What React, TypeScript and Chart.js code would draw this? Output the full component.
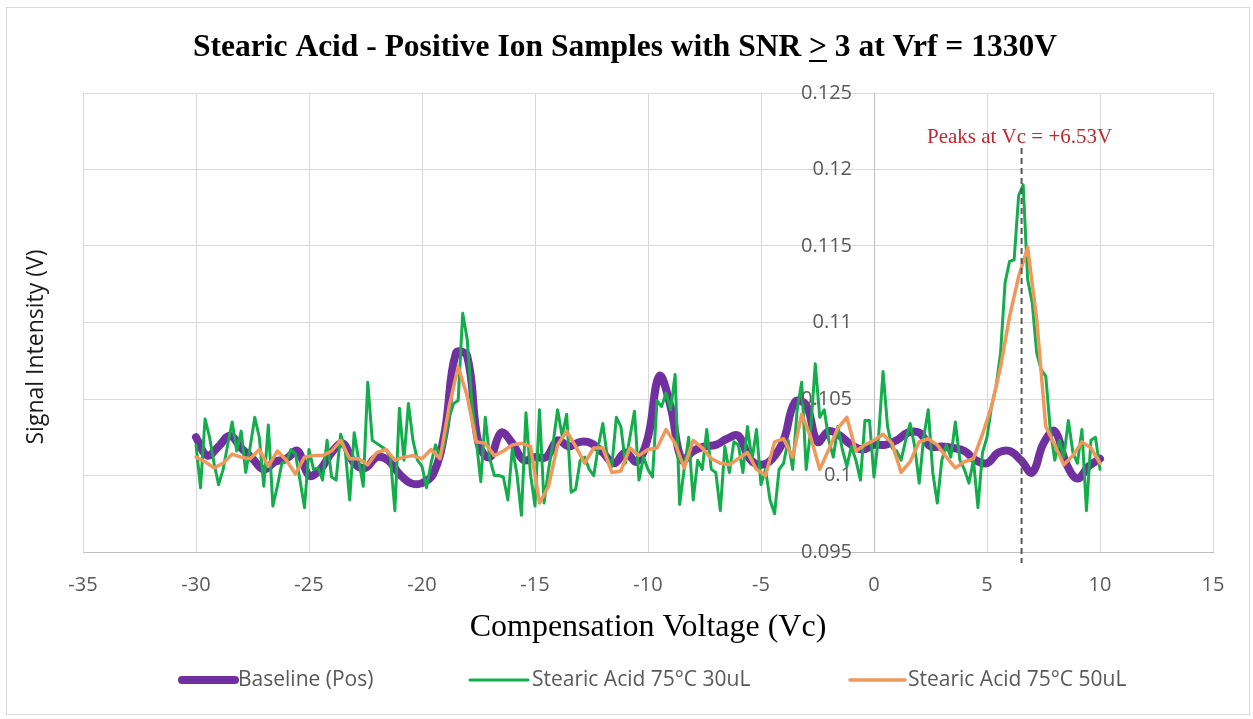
import React, { useEffect, useRef } from "react";
import { Chart, registerables } from "chart.js";

Chart.register(...registerables);

// ---------- text ----------
const TITLE_PARTS = ["Stearic Acid - Positive Ion Samples with SNR ", ">", " 3 at Vrf = 1330V"];
const X_TITLE = "Compensation Voltage (Vc)";
const Y_TITLE = "Signal Intensity (V)";
const SERIES_NAMES = ["Baseline (Pos)", "Stearic Acid 75°C 30uL", "Stearic Acid 75°C 50uL"];
const PEAK_VC = 6.53;
const PEAK_LABEL = "Peaks at Vc = +6.53V";

// ---------- axes ----------
const X_MIN = -35;
const X_MAX = 15;
const X_STEP = 5;
const Y_MIN = 0.095;
const Y_MAX = 0.125;
const Y_STEP = 0.005;

// ---------- sweep grids (Vc start / increment) ----------
const BASELINE_START = -30;
const BASELINE_STEP = 0.5;
const SA30_START = -30;
const SA30_STEP = 0.2;
const SA50_START = -30;
const SA50_STEP = 0.4;

// ---------- series values (V) ----------
const BASELINE = [
  0.1025, 0.1013, 0.1019, 0.1026, 0.1018, 0.1011, 0.1004, 0.1009, 0.1011, 0.1016,
  0.1000, 0.1004, 0.1015, 0.1021, 0.1008, 0.1005, 0.1012, 0.1010, 0.1001, 0.0995,
  0.0995, 0.1001, 0.1028, 0.1080, 0.1078, 0.1021, 0.1012, 0.1028, 0.1021, 0.1010,
  0.1012, 0.1012, 0.1023, 0.1019, 0.1022, 0.1021, 0.1015, 0.1008, 0.1015, 0.1009,
  0.1025, 0.1065, 0.1045, 0.1010, 0.1016, 0.1019, 0.1020, 0.1024, 0.1026, 0.1011,
  0.1007, 0.1011, 0.1023, 0.1048, 0.1046, 0.1022, 0.1029, 0.1026, 0.1020, 0.1017,
  0.1020, 0.1020, 0.1023, 0.1028, 0.1028, 0.1019, 0.1019, 0.1018, 0.1016, 0.1010,
  0.1008, 0.1015, 0.1016, 0.1010, 0.1002, 0.1021, 0.1029, 0.1008, 0.0998, 0.1006,
  0.1011,
];

const SA_30UL = [
  0.1020, 0.0992, 0.1037, 0.1025, 0.1008, 0.0994, 0.1004, 0.1020, 0.1035, 0.1016,
  0.1029, 0.1002, 0.1019, 0.1038, 0.1025, 0.0993, 0.1033, 0.0980, 0.0993, 0.1008,
  0.1009, 0.1017, 0.1014, 0.0997, 0.0979, 0.1017, 0.1004, 0.1005, 0.0997, 0.1023,
  0.0999, 0.0997, 0.1027, 0.1017, 0.0984, 0.1028, 0.1010, 0.0993, 0.1061, 0.1023,
  0.1021, 0.1019, 0.1017, 0.1012, 0.0977, 0.1044, 0.1010, 0.1047, 0.1023, 0.1010,
  0.1006, 0.0992, 0.1008, 0.1020, 0.1012, 0.1021, 0.1038, 0.1047, 0.1049, 0.1106,
  0.1089, 0.1049, 0.1023, 0.0996, 0.1038, 0.1011, 0.1000, 0.1000, 0.0999, 0.0984,
  0.1018, 0.1001, 0.0974, 0.1041, 0.1001, 0.0980, 0.1043, 0.0982, 0.1004, 0.1021,
  0.1043, 0.1026, 0.1040, 0.0989, 0.0991, 0.1010, 0.1012, 0.1004, 0.1000, 0.1019,
  0.1034, 0.1012, 0.1006, 0.1038, 0.1032, 0.1008, 0.1025, 0.1042, 0.0997, 0.1012,
  0.1004, 0.0999, 0.1049, 0.1045, 0.1054, 0.1043, 0.1066, 0.0981, 0.1004, 0.1025,
  0.0984, 0.1010, 0.1004, 0.1030, 0.1004, 0.1002, 0.0977, 0.1019, 0.1002, 0.1022,
  0.1020, 0.1002, 0.1032, 0.1010, 0.1030, 0.0994, 0.1004, 0.0984, 0.0975, 0.1004,
  0.1008, 0.1023, 0.1004, 0.1043, 0.1061, 0.1004, 0.1030, 0.1073, 0.1038, 0.1043,
  0.1023, 0.1012, 0.1032, 0.1017, 0.1006, 0.1019, 0.1010, 0.0997, 0.1036, 0.1036,
  0.0999, 0.1025, 0.1068, 0.1032, 0.1018, 0.1016, 0.1010, 0.1023, 0.1034, 0.1019,
  0.0995, 0.1025, 0.1043, 0.1002, 0.0982, 0.1010, 0.1020, 0.1012, 0.1035, 0.1010,
  0.1004, 0.0995, 0.1010, 0.0979, 0.1015, 0.1025, 0.1045, 0.1058, 0.1080, 0.1126,
  0.1140, 0.1141, 0.1183, 0.1190, 0.1128, 0.1113, 0.1080, 0.1069, 0.1065, 0.1030,
  0.1010, 0.1023, 0.1012, 0.1036, 0.1015, 0.1008, 0.1030, 0.0977, 0.1023, 0.1025,
  0.1004,
];

const SA_50UL = [
  0.1012, 0.1009, 0.1005, 0.1008, 0.1014, 0.1012, 0.1011, 0.1017, 0.1006, 0.1016,
  0.1010, 0.1001, 0.1012, 0.1013, 0.1013, 0.1016, 0.1023, 0.1011, 0.1011, 0.1007,
  0.1015, 0.1017, 0.1010, 0.1012, 0.1013, 0.1011, 0.1017, 0.1011, 0.1045, 0.1071,
  0.1052, 0.1022, 0.1021, 0.1013, 0.1016, 0.1020, 0.1021, 0.1019, 0.0982, 0.0993,
  0.1020, 0.1029, 0.1019, 0.1008, 0.1018, 0.1018, 0.1002, 0.1003, 0.1018, 0.1013,
  0.1017, 0.1018, 0.1030, 0.1021, 0.1005, 0.1023, 0.1018, 0.1011, 0.1008, 0.1007,
  0.1011, 0.1015, 0.1004, 0.1000, 0.1022, 0.1024, 0.1012, 0.1040, 0.1025, 0.1004,
  0.1017, 0.1031, 0.1038, 0.1016, 0.1020, 0.1023, 0.1027, 0.1021, 0.1002, 0.1009,
  0.1022, 0.1024, 0.1020, 0.1012, 0.1005, 0.1009, 0.1011, 0.1027, 0.1045, 0.1071,
  0.1104, 0.1130, 0.1149, 0.1102, 0.1032, 0.1020, 0.1007, 0.1013, 0.1022, 0.1018,
  0.1008,
];

const COLORS = ["#7030A0", "#13AD4C", "#F0975A"];
const WIDTHS = [8, 3, 3.5];

function toPoints(start: number, step: number, ys: number[]) {
  return ys.map((y, i) => ({ x: Math.round((start + i * step) * 1000) / 1000, y }));
}

const fmtY = (v: number) => String(Number(Number(v).toFixed(3)));

const overlayPlugin = {
  id: "overlay",
  beforeDraw(chart: any) {
    const { ctx, width, height } = chart;
    ctx.save();
    ctx.fillStyle = "#ffffff";
    ctx.fillRect(0, 0, width, height);
    ctx.strokeStyle = "#d9d9d9";
    ctx.lineWidth = 1;
    ctx.strokeRect(6.5, 7.5, width - 10, height - 12);
    ctx.restore();
  },
  afterDatasetsDraw(chart: any) {
    const { ctx, chartArea, scales } = chart;
    const px = scales.x.getPixelForValue(PEAK_VC);
    ctx.save();
    // peak marker
    ctx.strokeStyle = "#595959";
    ctx.lineWidth = 2;
    ctx.setLineDash([6, 4]);
    ctx.beginPath();
    ctx.moveTo(px, chartArea.top + 55);
    ctx.lineTo(px, chartArea.bottom + 11);
    ctx.stroke();
    ctx.setLineDash([]);
    ctx.fillStyle = "#C0282F";
    ctx.font = '21px "Liberation Serif"';
    ctx.textAlign = "center";
    ctx.textBaseline = "middle";
    ctx.fillText(PEAK_LABEL, px - 2, chartArea.top + 44);
    // y tick labels (drawn above the data, beside the x = 0 axis)
    const axisX = scales.x.getPixelForValue(0);
    ctx.fillStyle = "#595959";
    ctx.font = '20px "Open Sans"';
    ctx.textAlign = "right";
    ctx.textBaseline = "middle";
    scales.y.ticks.forEach((t: any) => {
      ctx.fillText(fmtY(t.value), axisX - 22, scales.y.getPixelForValue(t.value));
    });
    ctx.restore();
  },
  afterDraw(chart: any) {
    const { ctx } = chart;
    ctx.save();
    // title
    ctx.font = 'bold 31.5px "Liberation Serif"';
    ctx.fillStyle = "#000000";
    ctx.textBaseline = "middle";
    ctx.textAlign = "left";
    const widths = TITLE_PARTS.map((t) => ctx.measureText(t).width);
    const total = widths.reduce((a, b) => a + b, 0);
    let tx = 625 - total / 2;
    TITLE_PARTS.forEach((t, i) => {
      ctx.fillText(t, tx, 48);
      if (i === 1) ctx.fillRect(tx, 60, widths[i], 2);
      tx += widths[i];
    });
    // x axis title
    ctx.font = '32px "Liberation Serif"';
    ctx.textAlign = "center";
    ctx.fillText(X_TITLE, 648, 628);
    // y axis title
    ctx.save();
    ctx.translate(36, 347);
    ctx.rotate(-Math.PI / 2);
    ctx.font = '23px "Open Sans"';
    ctx.fillStyle = "#1a1a1a";
    ctx.fillText(Y_TITLE, 0, 0);
    ctx.restore();
    // legend
    const items = [
      { x0: 182, x1: 235, tx: 238 },
      { x0: 470, x1: 528, tx: 532 },
      { x0: 850, x1: 905, tx: 908 },
    ];
    const ly = 680;
    ctx.font = '21px "Open Sans"';
    ctx.textAlign = "left";
    ctx.textBaseline = "middle";
    items.forEach((it, i) => {
      ctx.strokeStyle = COLORS[i];
      ctx.lineWidth = WIDTHS[i];
      ctx.lineCap = "round";
      ctx.beginPath();
      ctx.moveTo(it.x0, ly);
      ctx.lineTo(it.x1, ly);
      ctx.stroke();
      ctx.fillStyle = "#595959";
      ctx.fillText(SERIES_NAMES[i], it.tx, ly);
    });
    ctx.restore();
  },
};

export default function App() {
  const ref = useRef<HTMLCanvasElement>(null);
  useEffect(() => {
    const canvas = ref.current;
    if (!canvas) return;
    const series = [
      toPoints(BASELINE_START, BASELINE_STEP, BASELINE),
      toPoints(SA30_START, SA30_STEP, SA_30UL),
      toPoints(SA50_START, SA50_STEP, SA_50UL),
    ];
    const chart = new Chart(canvas, {
      type: "line",
      data: {
        datasets: series.map((data, i) => ({
          label: SERIES_NAMES[i],
          data,
          borderColor: COLORS[i],
          backgroundColor: COLORS[i],
          borderWidth: WIDTHS[i],
          pointRadius: 0,
          pointHoverRadius: 0,
          tension: i === 0 ? 0.4 : 0,
          borderJoinStyle: "round",
          borderCapStyle: "round",
          fill: false,
          order: 3 - i,
        })),
      },
      options: {
        responsive: false,
        devicePixelRatio: 1,
        animation: false,
        events: [],
        layout: { padding: { top: 93, left: 83, right: 40, bottom: 0 } },
        plugins: {
          legend: { display: false },
          title: { display: false },
          tooltip: { enabled: false },
        },
        scales: {
          x: {
            type: "linear",
            position: "bottom",
            min: X_MIN,
            max: X_MAX,
            afterFit: (scale: any) => {
              scale.height = 167;
            },
            ticks: {
              stepSize: X_STEP,
              color: "#595959",
              font: { family: '"Open Sans"', size: 20 },
              padding: 21,
              maxRotation: 0,
              callback: (v: any) => String(v),
            },
            grid: { color: "#d9d9d9", lineWidth: 1, drawTicks: false },
            border: { color: "#bfbfbf", width: 1 },
          },
          y: {
            type: "linear",
            position: { x: 0 } as any,
            min: Y_MIN,
            max: Y_MAX,
            ticks: { stepSize: Y_STEP, display: false },
            grid: { color: "#d9d9d9", lineWidth: 1, drawTicks: false },
            border: { color: "#bfbfbf", width: 1 },
          },
        },
      },
      plugins: [overlayPlugin],
    } as any);
    return () => chart.destroy();
  }, []);
  return (
    <div style={{ position: "fixed", left: 0, top: 0, width: 1253, height: 719, background: "#fff" }}>
      <canvas ref={ref} width={1253} height={719} style={{ display: "block", width: 1253, height: 719 }} />
    </div>
  );
}
